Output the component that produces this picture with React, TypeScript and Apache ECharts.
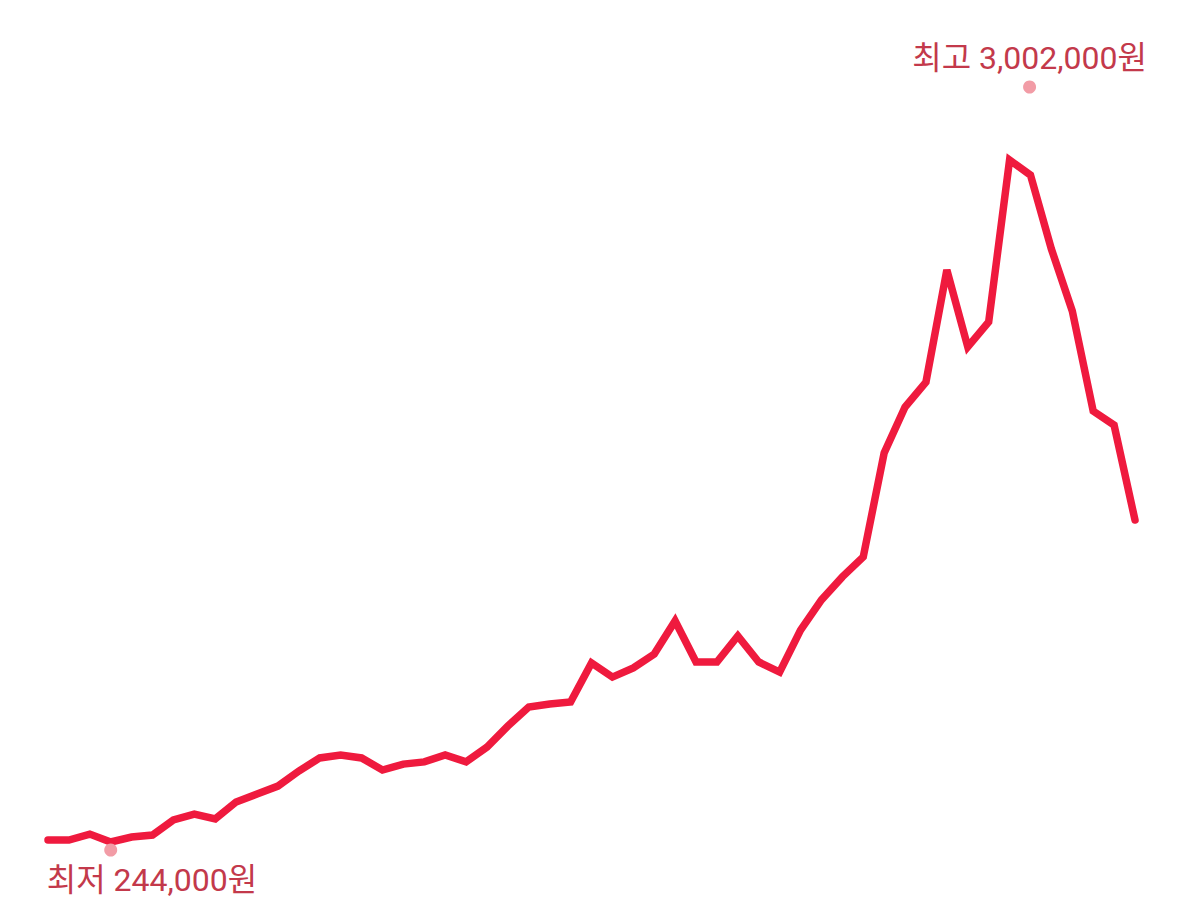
import React, { useEffect, useRef } from "react";
import * as echarts from "echarts";

const categories: string[] = Array.from({ length: 53 }, (_, i) => String(i + 1));
const prices: number[] = [
  252000, 252000, 276000, 244000, 264000, 272000, 333000, 357000, 337000, 406000,
  438000, 470000, 531000, 584000, 596000, 584000, 535000, 559000, 568000, 596000,
  568000, 628000, 713000, 790000, 802000, 810000, 968000, 911000, 948000, 1004000,
  1138000, 972000, 972000, 1077000, 972000, 931000, 1101000, 1223000, 1316000, 1397000,
  1817000, 2003000, 2104000, 2557000, 2246000, 2347000, 3002000, 2941000, 2642000, 2391000,
  1987000, 1930000, 1546000,
];

const maxVal = Math.max(...prices);
const minVal = Math.min(...prices);
const maxIdx = prices.indexOf(maxVal);
const minIdx = prices.indexOf(minVal);
const fmt = (v: number) => v.toLocaleString("en-US");

export default function App() {
  const ref = useRef<HTMLDivElement>(null);
  useEffect(() => {
    if (!ref.current) return;
    const chart = echarts.init(ref.current, null, { renderer: "svg" });
    const labelColor = "#c3394b";
    chart.setOption({
      animation: false,
      backgroundColor: "#ffffff",
      grid: { left: 48, right: 65, top: 160, bottom: 78 },
      xAxis: { type: "category", data: categories, boundaryGap: false, show: false },
      yAxis: { type: "value", min: minVal, max: maxVal, show: false },
      series: [
        {
          type: "line",
          data: prices,
          clip: false,
          symbol: "none",
          lineStyle: { color: "#ef1a3e", width: 7.5, cap: "round", join: "miter" },
          markPoint: {
            symbol: "circle",
            symbolSize: 13,
            itemStyle: { color: "#f29ca6" },
            label: {
              show: true,
              color: labelColor,
              fontSize: 32,
              fontFamily: "Roboto, 'Noto Sans CJK KR', sans-serif",
              position: "inside",
            },
            data: [
              {
                coord: [maxIdx, maxVal],
                symbolOffset: [20, -73],
                label: { formatter: `최고 ${fmt(maxVal)}원`, offset: [0, -29], align: "center" },
              },
              {
                coord: [minIdx, minVal],
                symbolOffset: [0, 8],
                label: { formatter: `최저 ${fmt(minVal)}원`, offset: [-64, 30], align: "left" },
              },
            ],
          },
        },
      ],
    });
    return () => chart.dispose();
  }, []);
  return (
    <div
      ref={ref}
      style={{ position: "absolute", left: 0, top: 0, width: 1200, height: 920, background: "#fff" }}
    />
  );
}
